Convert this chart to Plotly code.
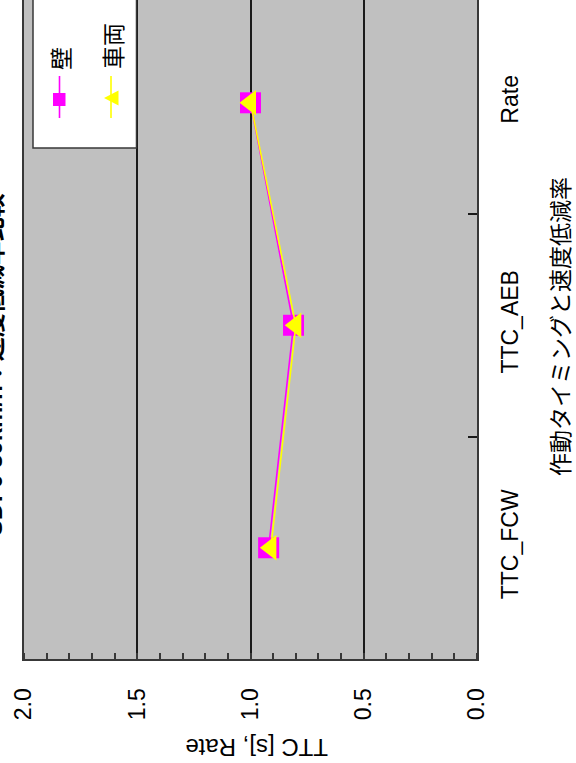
import plotly.graph_objects as go

# ---- data ----
categories = ["TTC_FCW", "TTC_AEB", "Rate"]
series_names = ["壁", "車両"]
wall_values = [0.92, 0.81, 1.00]      # 壁
vehicle_values = [0.91, 0.80, 1.00]   # 車両
value_ticks = [0.0, 0.5, 1.0, 1.5, 2.0]
value_ticktext = ["0.0", "0.5", "1.0", "1.5", "2.0"]
title_text = "SD: 0 30km/h：速度低減率比較"
x_title = "作動タイミングと速度低減率"
y_title = "TTC [s], Rate"

# ---- geometry helpers (pixel -> paper) ----
W, H = 576, 763
L, R, T, B = 24, 99, 0, 104
PW = W - L - R
PH = H - T - B


def px(x):
    return (x - L) / PW


def py(y):
    return (H - B - y) / PH


FONT = "Liberation Sans, Arial, Noto Sans CJK JP, sans-serif"
JFONT = "Noto Sans CJK JP, sans-serif"
MAGENTA = "#ff00ff"
YELLOW = "#ffff00"
FRAME = "#383838"
GRID = "#1a1a1a"

pos = list(range(len(categories)))

fig = go.Figure()
fig.add_trace(go.Scatter(
    x=wall_values, y=pos, mode="lines+markers", name=series_names[0],
    line=dict(color=MAGENTA, width=1.6),
    marker=dict(symbol="square", size=21, color=MAGENTA),
    showlegend=False,
))
fig.add_trace(go.Scatter(
    x=vehicle_values, y=pos, mode="lines+markers", name=series_names[1],
    line=dict(color=YELLOW, width=1.6),
    marker=dict(symbol="triangle-left", size=22, color=YELLOW),
    showlegend=False,
))

fig.update_layout(
    width=W, height=H,
    margin=dict(l=L, r=R, t=T, b=B, pad=0),
    paper_bgcolor="white",
    plot_bgcolor="#c0c0c0",
    font=dict(family=FONT, size=23, color="black"),
    showlegend=False,
    xaxis=dict(
        range=[2.0, 0.0],
        tickvals=value_ticks, ticktext=value_ticktext,
        ticks="", tickangle=-90, ticklabelstandoff=18,
        tickfont=dict(family=FONT, size=23),
        showgrid=True, gridcolor=GRID, gridwidth=2,
        showline=True, linecolor=FRAME, linewidth=2.2, mirror=False,
        zeroline=False,
        minor=dict(dtick=0.1, tick0=0, ticks="inside", ticklen=6,
                   tickwidth=1.5, tickcolor=FRAME, showgrid=False),
    ),
    yaxis=dict(
        range=[-0.5, 2.462],
        tickvals=pos, ticktext=categories,
        side="right", ticks="", tickangle=-90, ticklabelstandoff=11,
        tickfont=dict(family=FONT, size=23),
        showgrid=False,
        showline=True, linecolor=FRAME, linewidth=2.2, mirror=True,
        zeroline=False,
        minor=dict(tickvals=[0.5, 1.5], ticks="inside", ticklen=9,
                   tickwidth=2, tickcolor=GRID, showgrid=False),
    ),
)

# ---- legend box drawn with shapes (rotated layout) ----
shapes = [
    dict(type="rect", xref="paper", yref="paper",
         x0=px(33), x1=px(136.5), y0=py(148), y1=py(-5),
         fillcolor="white", line=dict(color=FRAME, width=1.5), layer="above"),
    dict(type="line", xref="paper", yref="paper",
         x0=px(59.5), x1=px(59.5), y0=py(118), y1=py(76),
         line=dict(color=MAGENTA, width=1.6)),
    dict(type="rect", xref="paper", yref="paper",
         x0=px(53), x1=px(65.5), y0=py(106), y1=py(93),
         fillcolor=MAGENTA, line=dict(width=0)),
    dict(type="line", xref="paper", yref="paper",
         x0=px(111), x1=px(111), y0=py(118), y1=py(76),
         line=dict(color=YELLOW, width=1.6)),
    dict(type="path", xref="paper", yref="paper",
         path=f"M {px(104)},{py(98)} L {px(118.5)},{py(90.5)} "
              f"L {px(118.5)},{py(105.5)} Z",
         fillcolor=YELLOW, line=dict(width=0)),
]
fig.update_layout(shapes=shapes)

annotations = [
    dict(text=series_names[0], x=px(60), y=py(59), textangle=-90,
         font=dict(family=JFONT, size=23)),
    dict(text=series_names[1], x=px(111.5), y=py(46.5), textangle=-90,
         font=dict(family=JFONT, size=23)),
    dict(text=x_title, x=px(559), y=py(327), textangle=-90,
         font=dict(family=JFONT, size=23)),
    dict(text=y_title, x=px(256), y=py(748), textangle=180,
         font=dict(family=FONT, size=24)),
    dict(text=f"<b>{title_text}</b>", x=px(-7), y=py(365), textangle=-90,
         font=dict(family=FONT + ", " + JFONT, size=24)),
]
for a in annotations:
    a.update(xref="paper", yref="paper", showarrow=False,
             xanchor="center", yanchor="middle")
fig.update_layout(annotations=annotations)

fig.write_html("out.html")
